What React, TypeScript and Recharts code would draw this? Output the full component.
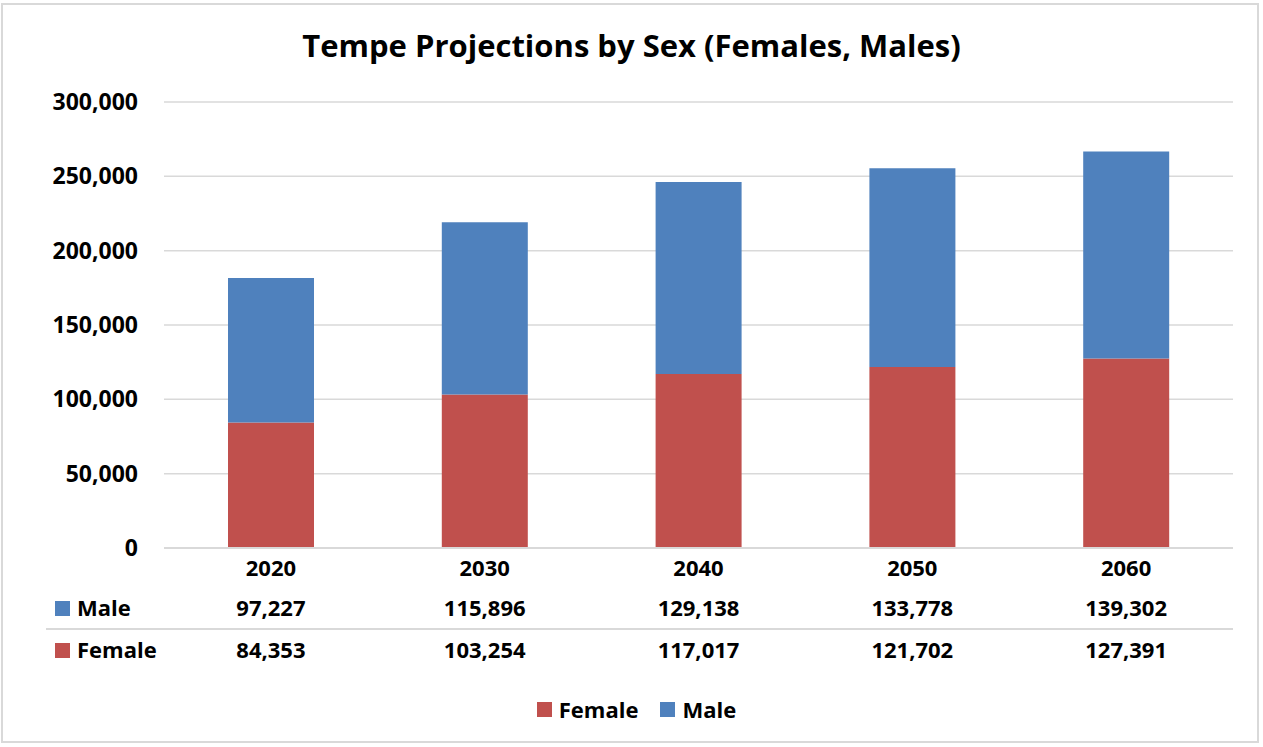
import React from 'react';
import { BarChart, Bar, XAxis, YAxis, CartesianGrid, Legend } from 'recharts';

const years = ['2020', '2030', '2040', '2050', '2060'];
const female = [84353, 103254, 117017, 121702, 127391];
const male = [97227, 115896, 129138, 133778, 139302];
const yTicks = [0, 50000, 100000, 150000, 200000, 250000, 300000];

const FONT = '"Open Sans", sans-serif';
const RED = '#C0504D';
const BLUE = '#4F81BD';
const GRID = '#D9D9D9';

const data = years.map((year, i) => ({ year, Female: female[i], Male: male[i] }));

const fmt = (v: number) => v.toLocaleString('en-US');

// data table under the axis, drawn per category tick
const TableTick = (props: any) => {
  const { x, y, index } = props;
  const txt = { fontFamily: FONT, fontSize: 22, fontWeight: 700, fill: '#000', textAnchor: 'middle' as const };
  return (
    <g>
      {index === 0 && (
        <g>
          <line x1={46} x2={1233} y1={y + 81} y2={y + 81} stroke={GRID} strokeWidth={2} />
          <rect x={55} y={y + 53} width={15} height={15} fill={BLUE} />
          <text x={77} y={y + 68} fontFamily={FONT} fontSize={22} fontWeight={700}>Male</text>
          <rect x={55} y={y + 95} width={15} height={15} fill={RED} />
          <text x={77} y={y + 110} fontFamily={FONT} fontSize={22} fontWeight={700}>Female</text>
        </g>
      )}
      <text x={x} y={y + 28} {...txt}>{years[index]}</text>
      <text x={x} y={y + 68} {...txt}>{fmt(male[index])}</text>
      <text x={x} y={y + 110} {...txt}>{fmt(female[index])}</text>
    </g>
  );
};

const LegendContent = (props: any) => {
  const items = props.payload || [];
  return (
    <div style={{ height: 52, display: 'flex', justifyContent: 'center', alignItems: 'flex-start', paddingLeft: 10, boxSizing: 'border-box' }}>
      {items.map((it: any) => (
        <div key={it.value} style={{ display: 'flex', alignItems: 'center', height: 28, margin: '0 11px' }}>
          <span style={{ width: 15, height: 15, background: it.color, marginRight: 7, display: 'inline-block' }} />
          <span style={{ fontFamily: FONT, fontSize: 22, fontWeight: 700, color: '#000' }}>{it.value}</span>
        </div>
      ))}
    </div>
  );
};

export default function App() {
  return (
    <div style={{ position: 'absolute', left: 0, top: 0, width: 1263, height: 747, background: '#fff' }}>
      <div style={{ position: 'absolute', left: 1, top: 3, width: 1258, height: 740, border: `2px solid ${GRID}`, boxSizing: 'border-box' }} />
      <div style={{ position: 'absolute', left: 0, top: 30, width: 1263, textAlign: 'center', fontFamily: FONT, fontSize: 31, fontWeight: 700, lineHeight: '31px', color: '#000' }}>
        Tempe Projections by Sex (Females, Males)
      </div>
      <BarChart width={1263} height={747} data={data} margin={{ top: 102, right: 30, left: 0, bottom: 0 }} barSize={86}>
        <CartesianGrid vertical={false} stroke={GRID} strokeWidth={1.5} />
        <XAxis dataKey="year" height={147} tickSize={0} tickMargin={0} axisLine={{ stroke: GRID, strokeWidth: 2 }} tickLine={false} tick={<TableTick />} interval={0} />
        <YAxis width={164} domain={[0, 300000]} ticks={yTicks} tickFormatter={fmt} axisLine={false} tickLine={false} tickSize={0} tickMargin={26}
          tick={{ fontFamily: FONT, fontSize: 23, fontWeight: 700, fill: '#000' }} />
        <Legend verticalAlign="bottom" wrapperStyle={{ left: 0, width: 1263 }} content={<LegendContent />} />
        <Bar dataKey="Female" stackId="a" fill={RED} isAnimationActive={false} />
        <Bar dataKey="Male" stackId="a" fill={BLUE} isAnimationActive={false} />
      </BarChart>
    </div>
  );
}
